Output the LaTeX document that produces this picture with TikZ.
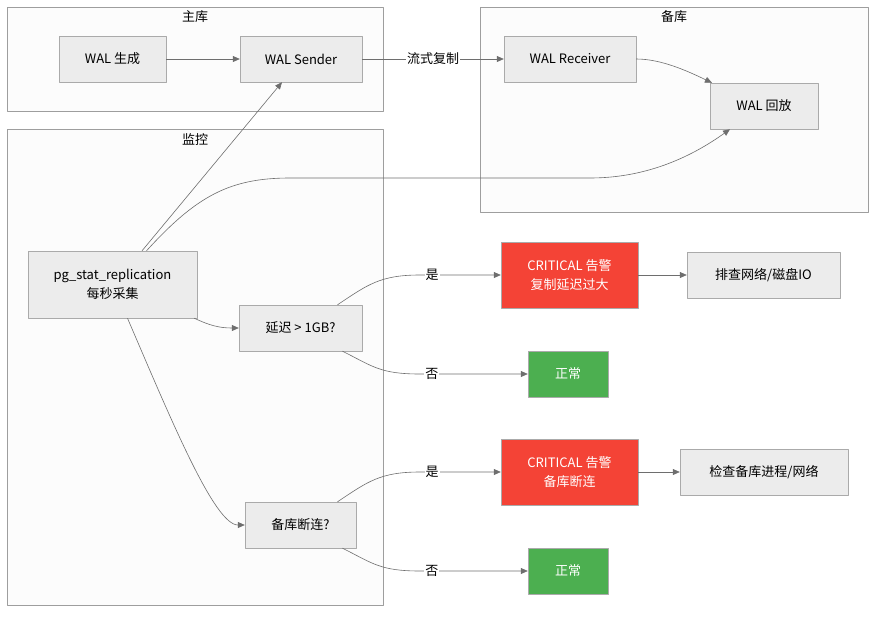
\documentclass[tikz,border=0pt]{standalone}
\usepackage{fontspec}
\setmainfont{Noto Sans CJK SC}
\usetikzlibrary{arrows.meta}
\definecolor{boxfill}{HTML}{ECECEC}
\definecolor{boxline}{HTML}{AAAAAA}
\definecolor{grpfill}{HTML}{FCFCFC}
\definecolor{grpline}{HTML}{9E9E9E}
\definecolor{edgeline}{HTML}{6E6E6E}
\definecolor{alarmred}{HTML}{F44336}
\definecolor{okgreen}{HTML}{4CAF50}
\tikzset{
	box/.style={draw=boxline, fill=boxfill, minimum height=46, inner sep=0pt, align=center},
	alarm/.style={box, fill=alarmred, text=white, minimum width=137, minimum height=66},
	okbox/.style={box, fill=okgreen, text=white, minimum width=80},
	grp/.style={draw=grpline, fill=grpfill},
	edge/.style={draw=edgeline, -{Triangle[length=7pt,width=6pt]}, line width=0.6pt},
	lbl/.style={fill=white, inner sep=1pt}
}
\begin{document}
\begin{tikzpicture}[x=1pt, y=-1pt, font=\fontsize{13}{19}\selectfont, line join=round]
				\useasboundingbox (0,0) rectangle (884,619);
				\draw[grp] (7,7) rectangle (383,111);
				\draw[grp] (7,129) rectangle (383,605);
				\draw[grp] (480,7) rectangle (868,212);
				\node (t1) at (195,17) {主库};
				\node (t2) at (195,139) {监控};
				\node (t3) at (674,17) {备库};
				\node[box, minimum width=107] (gen) at (112.5,59) {WAL 生成};
				\node[box, minimum width=122] (sender) at (301,59) {WAL Sender};
				\node[box, minimum width=132] (recv) at (570,59) {WAL Receiver};
				\node[box, minimum width=108] (replay) at (764,106) {WAL 回放};
				\node[box, minimum width=169, minimum height=67] (pg) at (112.5,284.5) {pg\_stat\_replication\\每秒采集};
				\node[box, minimum width=123] (delay) at (300.5,328) {延迟 > 1GB?};
				\node[box, minimum width=111] (disc) at (300.5,525) {备库断连?};
				\node[alarm] (crit1) at (569.5,275) {CRITICAL 告警\\复制延迟过大};
				\node[box, minimum width=153] (check1) at (763.5,275) {排查网络/磁盘IO};
				\node[okbox] (ok1) at (568,374) {正常};
				\node[alarm] (crit2) at (569.5,472) {CRITICAL 告警\\备库断连};
				\node[box, minimum width=168] (check2) at (764,472) {检查备库进程/网络};
				\node[okbox] (ok2) at (568,571) {正常};
				\draw[edge] (gen) -- (sender);
				\draw[edge] (sender) -- node[lbl]{流式复制} (recv);
				\draw[edge] (recv.east) .. controls +(25,0) and +(-25,-12) .. ([xshift=-52]replay.north);
				\draw[edge] ([xshift=29.5]pg.north) -- ([xshift=-19]sender.south);
				\draw[edge] ([xshift=34]pg.north) .. controls +(50,-55) and +(-60,0) .. (290,178) -- (590,178) .. controls +(60,0) and +(-35,25) .. ([xshift=-34]replay.south);
				\draw[edge] ([xshift=-3]pg.south east) .. controls +(15,7) and +(-20,0) .. (delay.west);
				\draw[edge] ([xshift=15]pg.south) .. controls +(45,105) and +(-30,0) .. (disc.west);
				\draw[edge] ([xshift=37]delay.north) .. controls +(30,-20) and +(-40,0) .. (420,275) -- node[lbl, pos=0.15]{是} (crit1.west);
				\draw[edge] ([xshift=42]delay.south) .. controls +(30,15) and +(-40,0) .. (420,374) -- node[lbl, pos=0.11]{否} (ok1.west);
				\draw[edge] ([xshift=37]disc.north) .. controls +(30,-20) and +(-40,0) .. (420,472) -- node[lbl, pos=0.15]{是} (crit2.west);
				\draw[edge] ([xshift=42]disc.south) .. controls +(30,15) and +(-40,0) .. (420,571) -- node[lbl, pos=0.11]{否} (ok2.west);
				\draw[edge] (crit1) -- (check1);
				\draw[edge] (crit2) -- (check2);
			\end{tikzpicture}
\end{document}
